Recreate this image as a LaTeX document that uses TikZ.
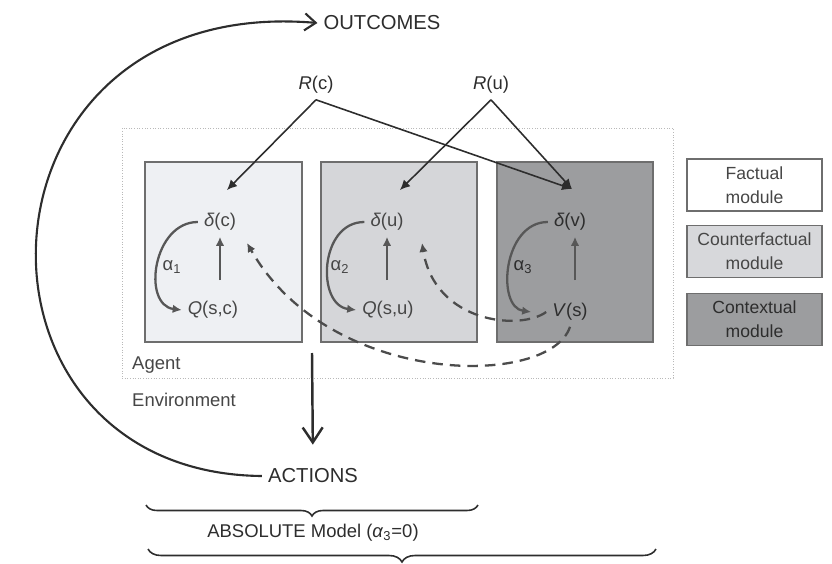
\documentclass[tikz,border=0pt]{standalone}
\usepackage{fontspec}
\setmainfont{Liberation Sans}
\usepackage{tikz}
\usepackage{xcolor}
\usetikzlibrary{positioning, arrows.meta, decorations.pathreplacing}
\definecolor{factfill}{RGB}{238, 240, 243}
\definecolor{cfacfill}{RGB}{213, 214, 217}
\definecolor{ctxfill}{RGB}{156, 157, 159}
\definecolor{modline}{RGB}{110, 110, 110}
\definecolor{inktext}{RGB}{70, 70, 70}
\definecolor{inkline}{RGB}{45, 45, 45}
\tikzset{
    modbox/.style={draw=modline, line width=0.8pt, inner sep=0pt},
    legbox/.style={modbox, minimum width=27mm, minimum height=10.4mm, align=center,
        font=\fontsize{10}{13.6}\selectfont, text=inktext},
    lbl/.style={font=\fontsize{10.5}{12}\selectfont, text=inktext},
    biglbl/.style={font=\fontsize{11.5}{13}\selectfont, text=inkline},
    rarr/.style={-{Latex[length=2mm,width=1.9mm]}, line width=0.9pt, draw=inkline},
    uparr/.style={-{Latex[length=1.8mm,width=1.7mm]}, line width=1.4pt, draw=inkline!80},
    loopar/.style={-{Latex[length=1.8mm,width=1.7mm]}, line width=1.3pt, draw=inkline!80},
    dasharr/.style={-{Latex[length=1.8mm,width=1.7mm]}, line width=1.3pt, draw=inkline!85,
        dash pattern=on 6pt off 4pt},
    bigarr/.style={-{Straight Barb[length=2.2mm,width=3.4mm]}, line width=1.2pt, draw=inkline},
    bracestyle/.style={decorate, line width=0.9pt, draw=inkline}
}
\begin{document}
\begin{tikzpicture}[x=0.2mm, y=0.2mm]
    \useasboundingbox (0,0) rectangle (832,563);

    % agent area and modules
    \node[draw=gray!55, densely dotted, line width=0.5pt, minimum width=110.2mm, minimum height=50mm,
        inner sep=0pt] (agentbox) at (397.5,310) {};
    \node[modbox, fill=factfill, minimum width=31.4mm, minimum height=36mm] (mfact) at (223.5,311) {};
    \node[modbox, fill=cfacfill, minimum width=31.2mm, minimum height=36mm] (mcfac) at (399,311) {};
    \node[modbox, fill=ctxfill, minimum width=31.2mm, minimum height=36mm] (mctx) at (575,311) {};

    % legend
    \node[legbox, fill=white] (lfact) at (754.5,378) {Factual\\module};
    \node[legbox, fill=cfacfill!95!white] (lcfac) at (754.5,311.5) {Counterfactual\\module};
    \node[legbox, fill=ctxfill, text=inkline] (lctx) at (754.5,243.5) {Contextual\\module};

    % values inside modules
    \node[lbl] (dc) at (220,341) {\textit{δ}(c)};
    \node[lbl] (qc) at (213,253) {\textit{Q}(s,c)};
    \node[lbl] (a1) at (172,296) {α\textsubscript{1}};
    \node[lbl] (du) at (387,341) {\textit{δ}(u)};
    \node[lbl] (qu) at (388,253) {\textit{Q}(s,u)};
    \node[lbl] (a2) at (340,296) {α\textsubscript{2}};
    \node[lbl, text=inkline] (dv) at (570,341) {\textit{δ}(v)};
    \node[lbl, text=inkline] (vs) at (570,251) {\textit{V}(s)};
    \node[lbl, text=inkline] (a3) at (523,296) {α\textsubscript{3}};

    % rewards
    \node[lbl, text=inkline] (rc) at (316,478) {\textit{R}(c)};
    \node[lbl, text=inkline] (ru) at (491,478) {\textit{R}(u)};
    \coordinate (dcin) at (227,373);
    \coordinate (duin) at (400,373);
    \coordinate (dvin) at (572,374);
    \draw[rarr] (rc.south) -- (dcin);
    \draw[rarr] (rc.south) -- (dvin);
    \draw[rarr] (ru.south) -- (duin);
    \draw[rarr] (ru.south) -- (dvin);

    % update arrows
    \draw[uparr, shorten <=3mm] (dc.south |- qc.north) -- (dc.south);
    \draw[uparr, shorten <=3mm] (du.south |- qu.north) -- (du.south);
    \draw[uparr, shorten <=3.4mm] ([xshift=1mm]dv.south |- vs.north) -- ([xshift=1mm]dv.south);
    \draw[loopar] (dc.west) .. controls +(-45,0) and +(-40,5) .. (qc.west);
    \draw[loopar] (du.west) .. controls +(-45,0) and +(-40,5) .. (qu.west);
    \draw[loopar] (dv.west) .. controls +(-45,0) and +(-35,5) .. ([xshift=-3mm]vs.west);

    % contextual feedback (dashed)
    \coordinate (dutail) at (422,320);
    \coordinate (dctail) at (247,320);
    \draw[dasharr] (vs.west) .. controls (520,232) and (435,240) .. (dutail);
    \draw[dasharr] (vs.south) .. controls (550,175) and (330,175) .. (dctail);

    % agent / environment
    \node[lbl, anchor=west] (agent) at (126,198) {Agent};
    \node[lbl, anchor=west] (envir) at (126,163) {Environment};

    \node[biglbl] (outcomes) at (382,540) {OUTCOMES};
    \node[biglbl] (actions) at (313,87) {ACTIONS};
    \coordinate (actstart) at (312,210);
    \draw[bigarr, line width=1.4pt, -{Straight Barb[length=3mm,width=4mm]}] (actstart) -- (actions.north)
        [shorten >=3.6mm];
    \draw[bigarr] (actions.west) .. controls (-55,90) and (-40,570) .. (outcomes.west);

    % model braces
    \draw[bracestyle, decoration={brace, amplitude=2.2mm}] (478,58) -- (146,58);
    \node[lbl, text=inkline] (absmodel) at (313,30) {ABSOLUTE Model (\textit{α}\textsubscript{3}=0)};
    \draw[bracestyle, decoration={brace, amplitude=2.6mm}] (656,14) -- (148,14);
\end{tikzpicture}
\end{document}
